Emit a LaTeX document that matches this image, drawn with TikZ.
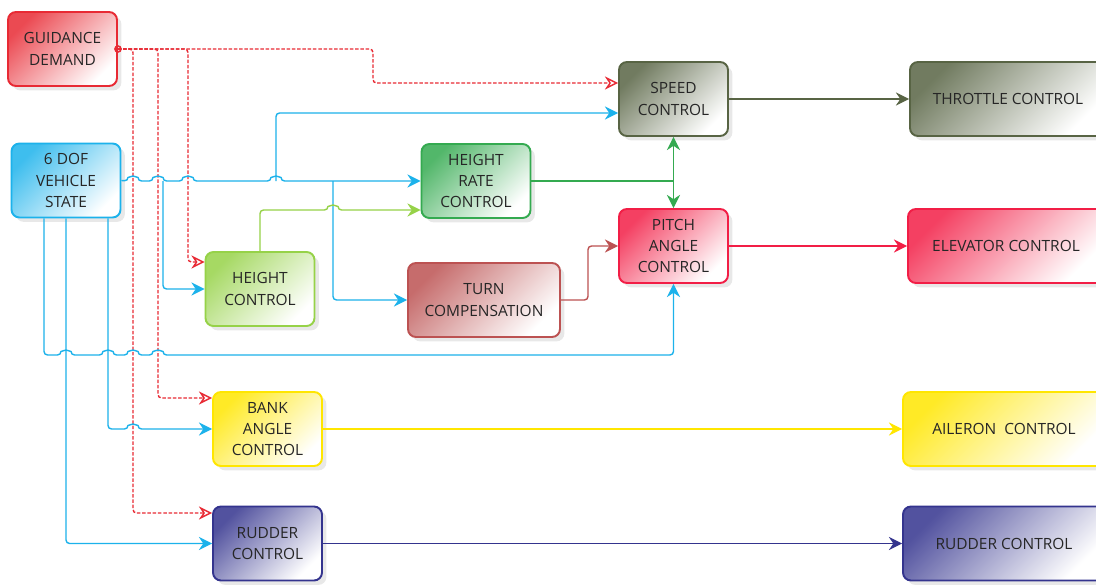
\documentclass[tikz,border=0pt]{standalone}
\usepackage{fontspec}
\setmainfont{Open Sans}
\usetikzlibrary{arrows.meta,shadows}

\definecolor{gdred}{RGB}{232,42,52}
\definecolor{vsblue}{RGB}{28,178,235}
\definecolor{hrgreen}{RGB}{52,170,80}
\definecolor{hcgreen}{RGB}{150,210,72}
\definecolor{spolive}{RGB}{88,100,68}
\definecolor{pared}{RGB}{242,30,70}
\definecolor{tcbrown}{RGB}{188,82,82}
\definecolor{bkyellow}{RGB}{255,230,0}
\definecolor{rdnavy}{RGB}{52,52,142}

\tikzset{
  box/.style={rectangle, rounded corners=4.5pt, line width=1.1pt, align=center,
    minimum width=2.18cm, minimum height=1.48cm, text=black!85,
    font=\fontsize{8.8}{12.2}\selectfont,
    drop shadow={opacity=0.18, shadow xshift=2.5pt, shadow yshift=-2.5pt}},
  boxc/.style={box, draw=#1, top color=#1!85, bottom color=white, shading angle=45},
  ln/.style={line width=0.8pt, rounded corners=2pt},
  tip/.style={-{Stealth[length=7.5pt,width=7.5pt,inset=2.5pt]}},
  otip/.style={-{Stealth[open,length=7.5pt,width=7.5pt,inset=2.5pt]}},
  dashln/.style={ln, gdred, dash pattern=on 2pt off 1pt, otip},
}

\begin{document}
\begin{tikzpicture}[x=0.02cm, y=-0.02cm]
\useasboundingbox (0,0) rectangle (1096,585);
\clip (0,0) rectangle (1096,585);
\fill[white] (0,0) rectangle (1096,585);

% blocks
\node[boxc=gdred] (gd) at (62.5,49) {GUIDANCE\\DEMAND};
\node[boxc=vsblue] (vs) at (66,180.5) {6 DOF\\VEHICLE\\STATE};
\node[boxc=hrgreen] (hrc) at (476,181) {HEIGHT\\RATE\\CONTROL};
\node[boxc=spolive] (sc) at (673.5,99) {SPEED\\CONTROL};
\node[boxc=pared] (pac) at (673.5,246) {PITCH\\ANGLE\\CONTROL};
\node[boxc=hcgreen] (hc) at (260,289) {HEIGHT\\CONTROL};
\node[boxc=tcbrown, minimum width=3.04cm] (tcp) at (484,300) {TURN\\COMPENSATION};
\node[boxc=bkyellow] (bac) at (267.5,429) {BANK\\ANGLE\\CONTROL};
\node[boxc=rdnavy] (rc) at (267.5,543.5) {RUDDER\\CONTROL};
\node[boxc=spolive, minimum width=3.92cm] (thc) at (1008,99) {THROTTLE CONTROL};
\node[boxc=pared, minimum width=3.92cm] (elc) at (1006,246) {ELEVATOR CONTROL};
\node[boxc=bkyellow, minimum width=4.04cm] (ailc) at (1004,429) {AILERON\ \ CONTROL};
\node[boxc=rdnavy, minimum width=4.04cm] (rdc) at (1004,543.5) {RUDDER CONTROL};

% junctions
\coordinate (jhc) at (163,181);
\coordinate (jsc) at (276,181);
\coordinate (jtc) at (333,181);
\coordinate (jhr) at (673.5,181);

% guidance demand
\draw[gdred, line width=0.9pt] (gd.east) circle[radius=3];
\draw[dashln] (gd.east) -- (373,49) -- (373,83) -- (sc.west |- 0,83);
\draw[dashln] (gd.east) -- (188,49) -- (188,262) -- (hc.west |- 0,262);
\draw[dashln] (gd.east) -- (158,49) -- (158,398) -- (bac.west |- 0,398);
\draw[dashln] (gd.east) -- (133,49) -- (133,513) -- (rc.west |- 0,513);

% vehicle state
\draw[ln, vsblue, tip] (vs.east) -- (128,181) arc[start angle=180, end angle=360, radius=5]
  -- (153,181) arc[start angle=180, end angle=360, radius=5]
  -- (183,181) arc[start angle=180, end angle=360, radius=5]
  -- (271,181) arc[start angle=180, end angle=360, radius=5] -- (hrc.west);
\draw[ln, vsblue, tip] (jsc) |- (sc.west |- 0,113);
\draw[ln, vsblue, tip] (jhc) |- (hc.west);
\draw[ln, vsblue, tip] (jtc) |- (tcp.west);
\draw[ln, vsblue, tip] (vs.south -| 44,0) -- (44,355)
  -- (61,355) arc[start angle=180, end angle=360, radius=5]
  -- (103,355) arc[start angle=180, end angle=360, radius=5]
  -- (128,355) arc[start angle=180, end angle=360, radius=5]
  -- (153,355) arc[start angle=180, end angle=360, radius=5]
  -- (673.5,355) -- (pac.south);
\draw[ln, vsblue, tip] (vs.south -| 108,0) -- (108,429)
  -- (128,429) arc[start angle=180, end angle=360, radius=5] -- (bac.west);
\draw[ln, vsblue, tip] (vs.south) |- (rc.west);

% inner loops
\draw[ln, hcgreen, tip] (hc.north) -- (260,210)
  -- (328,210) arc[start angle=180, end angle=360, radius=5] -- (hrc.west |- 0,210);
\draw[ln, hrgreen] (hrc.east) -- (jhr);
\draw[ln, hrgreen, tip] (jhr) -- (sc.south);
\draw[ln, hrgreen, tip] (jhr) -- (pac.north);
\draw[ln, tcbrown, tip] (tcp.east) -- (588,300) -- (588,246) -- (pac.west);

% outputs
\draw[ln, spolive, tip] (sc.east) -- (thc.west);
\draw[ln, pared, tip] (pac.east) -- (elc.west);
\draw[ln, bkyellow, tip] (bac.east) -- (ailc.west);
\draw[ln, rdnavy, tip] (rc.east) -- (rdc.west);

\end{tikzpicture}
\end{document}
